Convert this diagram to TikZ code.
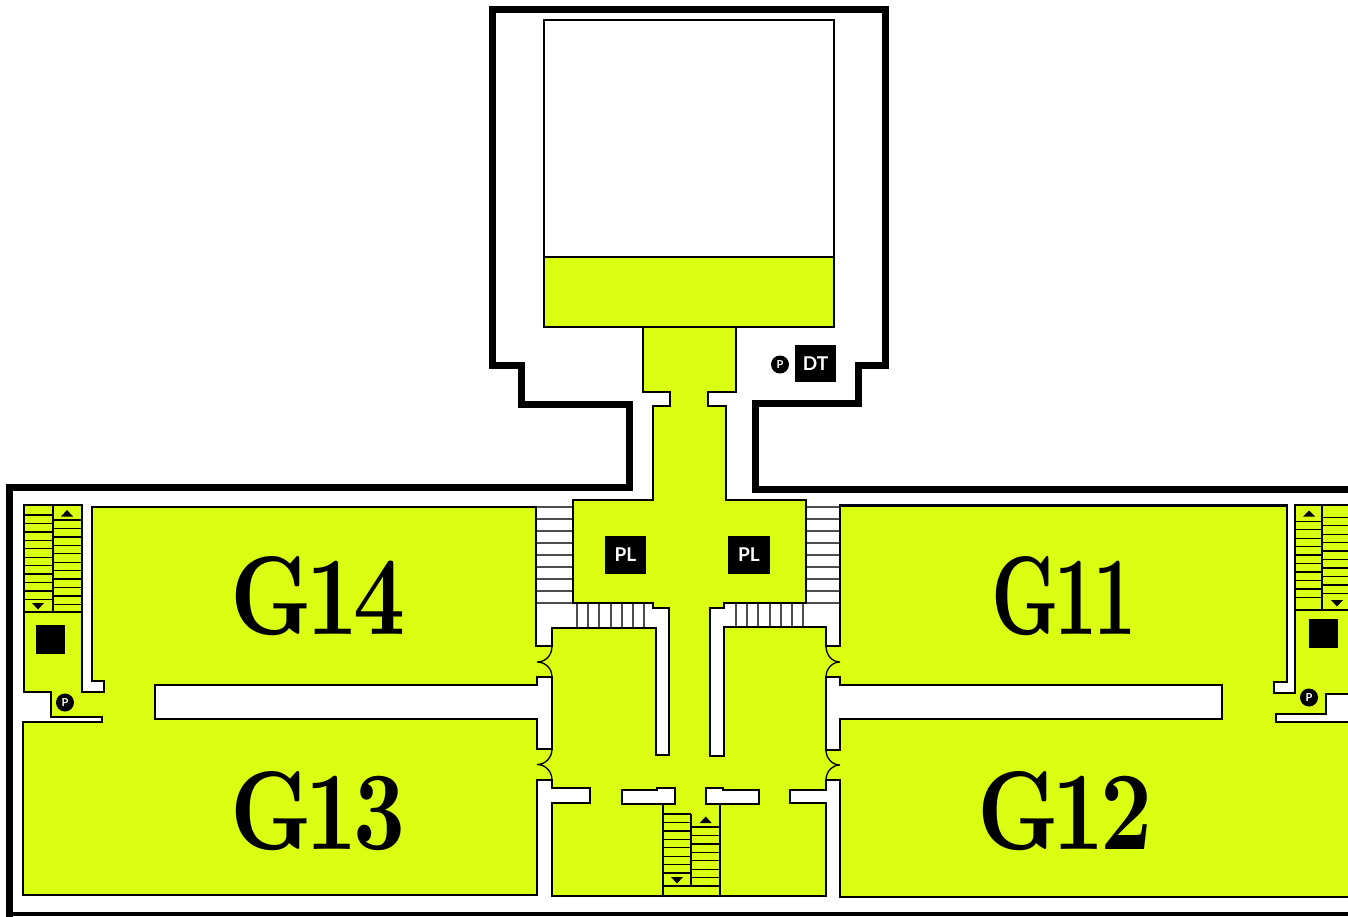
\documentclass[tikz,border=0pt]{standalone}
\usepackage{fontspec}
\setsansfont{Lato}
\definecolor{lime}{HTML}{DAFF12}
\tikzset{
  x=1pt,y=-1pt,
  wall/.style={draw=black,line width=2.6pt,line join=miter},
  area/.style={wall,fill=lime},
  gap/.style={wall,fill=white},
  outer/.style={draw=black,line width=7pt,line join=miter},
  tread/.style={draw=black,line width=1.3pt},
  whitetread/.style={draw=black!70,line width=1.3pt},
  door/.style={draw=black,line width=1.3pt,line join=bevel},
  tag/.style={fill=black,text=white,font=\sffamily\bfseries\fontsize{19}{19}\selectfont,inner sep=0pt,anchor=center},
  pin/.style={circle,fill=black,text=white,font=\sffamily\bfseries\fontsize{11}{11}\selectfont,inner sep=0pt,minimum size=18pt},
  solid block/.style={fill=black,inner sep=0pt,minimum size=29pt},
  hall/.style={inner sep=0pt,anchor=center},
  arrowtri/.style={fill=black}
}
\newcommand{\hallname}[3]{\resizebox{#1pt}{#2pt}{\rmfamily\bfseries #3}}
\begin{document}
\begin{tikzpicture}
\clip (0,0) rectangle (1348,916);
\fill[white] (0,0) rectangle (1348,916);
% outer walls
\draw[outer] (9.5,930) -- (9.5,487.5) -- (629,487.5) -- (629,404) -- (521,404) -- (521,365) -- (492,365) -- (492,9) -- (885,9) -- (885,365) -- (858,365) -- (858,403) -- (755,403) -- (755,489) -- (1360,489);
\draw[draw=black,line width=4pt] (9.5,914) -- (1360,914);
% upper room
\draw[gap] (544,20) rectangle (834,257);
\draw[area] (544,257) rectangle (834,327);
% white stairs
\foreach \y in {507,519,531,543,555,567,579,591,603}{
  \draw[whitetread] (537,\y) -- (573,\y);
  \draw[whitetread] (806,\y) -- (840,\y);
}
\foreach \x in {577,588,599,611,622,633,644}{\draw[whitetread] (\x,603) -- (\x,627);}
\foreach \x in {736,747,758,770,781,792,803}{\draw[whitetread] (\x,603) -- (\x,627);}
% main floor area
\draw[area] (643,327) -- (736,327) -- (736,392) -- (708,392) -- (708,406) -- (726,406) -- (726,500) -- (806,500) -- (806,603) -- (724,603) -- (724,608) -- (710,608) -- (710,756) -- (724,756) -- (724,627) -- (826,627) -- (826,646) -- (840,646) -- (840,505.5) -- (1287,505.5) -- (1287,682) -- (1274,682) -- (1274,693) -- (1295,693) -- (1295,505) -- (1360,505) -- (1360,694) -- (1326,694) -- (1326,714) -- (1276,714) -- (1276,722) -- (1360,722) -- (1360,897) -- (840,897) -- (840,780) -- (826,780) -- (826,790) -- (790,790) -- (790,803) -- (826,803) -- (826,896) -- (552,896) -- (552,803) -- (590,803) -- (590,788) -- (552,788) -- (552,780) -- (537,780) -- (537,895) -- (23,895) -- (23,722) -- (102,722) -- (102,717) -- (51,717) -- (51,692) -- (24,692) -- (24,505) -- (82,505) -- (82,692) -- (104,692) -- (104,681) -- (92,681) -- (92,507) -- (536,507) -- (536,646) -- (552,646) -- (552,628) -- (656,628) -- (656,755) -- (669,755) -- (669,608) -- (653,608) -- (653,603) -- (573,603) -- (573,500) -- (653,500) -- (653,406) -- (670,406) -- (670,392) -- (643,392) -- cycle;
% wall islands
\draw[gap] (155,685) -- (537,685) -- (537,677) -- (552,677) -- (552,749) -- (537,749) -- (537,719) -- (155,719) -- cycle;
\draw[gap] (1222,685) -- (840,685) -- (840,677) -- (826,677) -- (826,750) -- (840,750) -- (840,719) -- (1222,719) -- cycle;
\draw[gap] (622,790) -- (657,790) -- (657,788) -- (675,788) -- (675,804) -- (622,804) -- cycle;
\draw[gap] (706,788) -- (723,788) -- (723,790) -- (759,790) -- (759,804) -- (706,804) -- cycle;
% doors
\draw[door] (552,646) .. controls (552,655) and (546,662) .. (537,662) .. controls (546,662) and (552,669) .. (552,677);
\draw[door] (552,749) .. controls (552,757) and (546,764.5) .. (537,764.5) .. controls (546,764.5) and (552,772) .. (552,780);
\draw[door] (826,646) .. controls (826,655) and (832,662) .. (840,662) .. controls (832,662) and (826,669) .. (826,677);
\draw[door] (826,750) .. controls (826,758) and (832,765) .. (840,765) .. controls (832,765) and (826,772) .. (826,780);
% left stair
\draw[tread] (53,505) -- (53,612) (24,612) -- (82,612);
\foreach \y in {515,523.4,531.9,540.3,548.8,557.2,565.7,574.1,582.6,591,599.4}{\draw[tread] (24,\y) -- (53,\y);}
\foreach \y in {520,528.4,536.9,545.3,553.8,562.2,570.7,579.1,587.6,596,604.4}{\draw[tread] (53,\y) -- (82,\y);}
\fill[arrowtri] (61,516.5) -- (67,510) -- (73,516.5) -- cycle;
\fill[arrowtri] (32,603) -- (38,609.5) -- (44,603) -- cycle;
% right stair
\draw[tread] (1322,505) -- (1322,610) (1295,610) -- (1360,610);
\foreach \y in {521.3,529.7,538.2,546.6,555.1,563.5,572,580.4,588.9,597.3}{\draw[tread] (1295,\y) -- (1322,\y);}
\foreach \y in {517.3,525.7,534.2,542.6,551.1,559.5,568,576.4,584.9,593.3}{\draw[tread] (1322,\y) -- (1360,\y);}
\fill[arrowtri] (1303,516.5) -- (1309,510.5) -- (1315,516.5) -- cycle;
\fill[arrowtri] (1331,600) -- (1337,606.5) -- (1343,600) -- cycle;
% bottom stair
\draw[tread] (663,804) -- (663,896) (720,804) -- (720,896) (691,814) -- (691,886) (663,886) -- (720,886);
\foreach \y in {814,822.4,830.9,839.3,847.8,856.2,864.7,873}{\draw[tread] (663,\y) -- (691,\y);}
\foreach \y in {827,835.4,843.9,852.3,860.8,869.2,877.7}{\draw[tread] (691,\y) -- (720,\y);}
\fill[arrowtri] (699.7,823) -- (705.7,816.5) -- (711.7,823) -- cycle;
\fill[arrowtri] (671,877) -- (677,883.5) -- (683,877) -- cycle;
% markers
\node[solid block] (blockL) at (50.5,639.5) {};
\node[solid block] (blockR) at (1323.5,633.5) {};
\node[pin] (pinL) at (65,702.5) {P};
\node[pin] (pinR) at (1309,697.5) {P};
\node[pin] (pinT) at (780,364.5) {P};
\node[tag,minimum width=41pt,minimum height=37pt] (dt) at (815.5,363.5) {DT};
\node[tag,minimum width=41pt,minimum height=38pt] (plL) at (625.5,555) {PL};
\node[tag,minimum width=42pt,minimum height=38pt] (plR) at (749,555) {PL};
% hall names
\node[hall] (g14) at (318.5,596.5) {\hallname{175}{78}{G\kern-.07em 1\kern-.05em 4}};
\node[hall] (g11) at (1064,596.5) {\hallname{145}{78}{G\kern-.07em 1\kern-.05em 1}};
\node[hall] (g13) at (318,811) {\hallname{175}{78}{G\kern-.07em 1\kern-.05em 3}};
\node[hall] (g12) at (1065,811) {\hallname{175}{78}{G\kern-.07em 1\kern-.05em 2}};
\end{tikzpicture}
\end{document}
